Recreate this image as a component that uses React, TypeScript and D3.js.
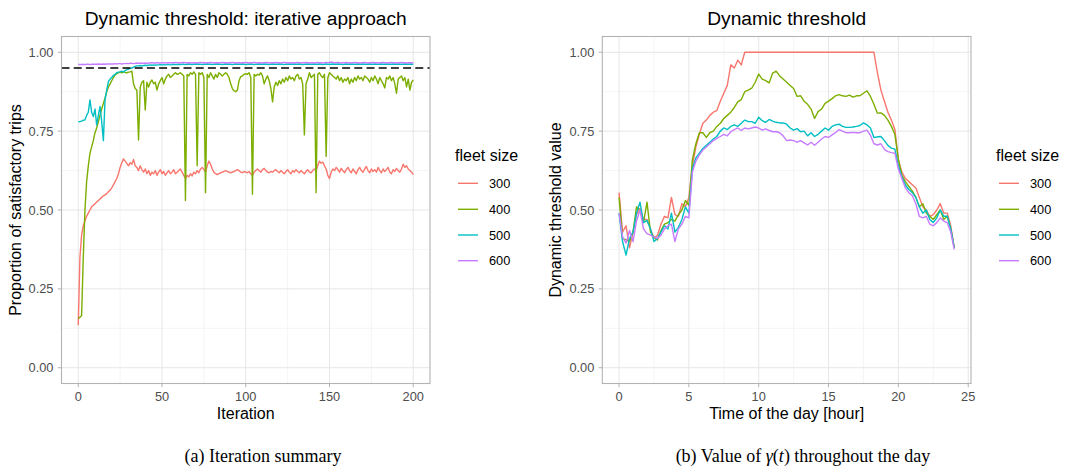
import React from 'react';
import * as d3 from 'd3';

// ---------------- DATA ----------------
const fleetSizes = ['300', '400', '500', '600'];
const fleetColors = ['#F8766D', '#7CAE00', '#00BFC4', '#C77CFF'];

const iterations = d3.range(0, 201);

const iterSat300 = [
  0.135, 0.35, 0.42, 0.45, 0.465, 0.48, 0.49, 0.5, 0.51, 0.515,
  0.52, 0.525, 0.53, 0.535, 0.54, 0.545, 0.548, 0.552, 0.558, 0.563,
  0.57, 0.58, 0.59, 0.6, 0.615, 0.635, 0.65, 0.662, 0.655, 0.648,
  0.64, 0.65, 0.645, 0.66, 0.64, 0.635, 0.625, 0.64, 0.628, 0.62,
  0.63, 0.615, 0.625, 0.61, 0.62, 0.615, 0.625, 0.61, 0.62, 0.628,
  0.615, 0.622, 0.61, 0.618, 0.625, 0.615, 0.62, 0.628, 0.615, 0.62,
  0.625, 0.63, 0.62, 0.61, 0.6, 0.61, 0.605, 0.615, 0.608, 0.62,
  0.615, 0.625, 0.618, 0.63, 0.635, 0.628, 0.62, 0.64, 0.655, 0.645,
  0.63, 0.62, 0.615, 0.612, 0.615, 0.618, 0.62, 0.622, 0.625, 0.622,
  0.62, 0.618, 0.62, 0.622, 0.625, 0.628, 0.625, 0.62, 0.618, 0.622,
  0.62, 0.618, 0.622, 0.615, 0.61, 0.62, 0.625, 0.63, 0.625, 0.62,
  0.628, 0.632, 0.625, 0.62, 0.618, 0.622, 0.62, 0.625, 0.628, 0.622,
  0.618, 0.625, 0.62, 0.615, 0.622, 0.628, 0.62, 0.615, 0.625, 0.62,
  0.628, 0.622, 0.618, 0.625, 0.62, 0.615, 0.622, 0.628, 0.62, 0.618,
  0.625, 0.63, 0.625, 0.64, 0.655, 0.648, 0.652, 0.64, 0.63, 0.61,
  0.6, 0.62, 0.63, 0.625, 0.635, 0.628, 0.62, 0.632, 0.625, 0.618,
  0.628, 0.635, 0.625, 0.618, 0.63, 0.622, 0.615, 0.628, 0.635, 0.625,
  0.62, 0.63, 0.638, 0.625, 0.618, 0.63, 0.622, 0.628, 0.62, 0.635,
  0.625, 0.618, 0.63, 0.622, 0.628, 0.635, 0.62, 0.615, 0.628, 0.622,
  0.632, 0.625, 0.62, 0.63, 0.645, 0.635, 0.64, 0.63, 0.625, 0.62,
  0.612,
];

const iterSat400 = [
  0.155, 0.16, 0.165, 0.35, 0.5, 0.59, 0.64, 0.68, 0.7, 0.72,
  0.745, 0.76, 0.78, 0.8, 0.82, 0.838, 0.855, 0.875, 0.89, 0.9,
  0.91, 0.92, 0.928, 0.932, 0.935, 0.937, 0.935, 0.938, 0.936, 0.935,
  0.937, 0.938, 0.94, 0.9, 0.885, 0.88, 0.722, 0.89, 0.905, 0.91,
  0.817, 0.905, 0.89, 0.905, 0.912, 0.9, 0.905, 0.88, 0.9, 0.91,
  0.92, 0.9, 0.915, 0.925, 0.93, 0.92, 0.925, 0.93, 0.935, 0.93,
  0.932, 0.935, 0.93, 0.925, 0.53, 0.93, 0.925, 0.935, 0.93, 0.938,
  0.93, 0.64, 0.935, 0.93, 0.935, 0.92, 0.555, 0.93, 0.92, 0.935,
  0.925, 0.915, 0.93, 0.92, 0.935, 0.93, 0.925, 0.93, 0.935, 0.93,
  0.92, 0.9, 0.885, 0.878, 0.875, 0.88, 0.91, 0.923, 0.925, 0.93,
  0.932, 0.93, 0.935, 0.92, 0.55, 0.93, 0.925, 0.93, 0.928, 0.935,
  0.925, 0.9, 0.915, 0.925, 0.91, 0.885, 0.843, 0.89, 0.905, 0.895,
  0.91, 0.9, 0.915, 0.905, 0.92, 0.91, 0.925, 0.915, 0.92, 0.91,
  0.925, 0.93, 0.915, 0.92, 0.9, 0.738, 0.9, 0.915, 0.935, 0.92,
  0.925, 0.93, 0.555, 0.93, 0.935, 0.925, 0.92, 0.93, 0.67, 0.92,
  0.935, 0.93, 0.925, 0.92, 0.915, 0.925, 0.91, 0.92, 0.905, 0.915,
  0.91, 0.92, 0.9, 0.915, 0.905, 0.92, 0.91, 0.925, 0.915, 0.92,
  0.91, 0.925, 0.92, 0.915, 0.905, 0.92, 0.91, 0.925, 0.915, 0.9,
  0.92, 0.91, 0.9, 0.887, 0.92, 0.915, 0.925, 0.91, 0.92, 0.9,
  0.87, 0.915, 0.92, 0.925, 0.91, 0.92, 0.89, 0.915, 0.88, 0.905,
  0.912,
];

const iterSat500 = [
  0.78, 0.78, 0.782, 0.785, 0.785, 0.8, 0.81, 0.849, 0.81, 0.796,
  0.82, 0.77, 0.8, 0.828, 0.78, 0.72, 0.85, 0.88, 0.907, 0.915,
  0.92, 0.927, 0.93, 0.935, 0.937, 0.938, 0.94, 0.937, 0.942, 0.945,
  0.947, 0.949, 0.95, 0.953, 0.955, 0.957, 0.957, 0.958, 0.957, 0.958,
  0.959, 0.958, 0.959, 0.96, 0.959, 0.96, 0.959, 0.96, 0.96, 0.961,
  0.96, 0.961, 0.96, 0.961, 0.961, 0.96, 0.961, 0.962, 0.961, 0.961,
  0.962, 0.961, 0.962, 0.962, 0.961, 0.962, 0.963, 0.962, 0.961, 0.962,
  0.962, 0.963, 0.962, 0.962, 0.961, 0.962, 0.962, 0.963, 0.962, 0.962,
  0.961, 0.962, 0.962, 0.963, 0.962, 0.962, 0.961, 0.962, 0.963, 0.962,
  0.962, 0.962, 0.961, 0.962, 0.963, 0.962, 0.962, 0.962, 0.963, 0.962,
  0.961, 0.962, 0.962, 0.963, 0.962, 0.961, 0.962, 0.962, 0.963, 0.962,
  0.962, 0.963, 0.962, 0.962, 0.961, 0.962, 0.963, 0.962, 0.962, 0.962,
  0.963, 0.962, 0.962, 0.961, 0.962, 0.962, 0.963, 0.962, 0.962, 0.963,
  0.962, 0.962, 0.963, 0.962, 0.961, 0.962, 0.962, 0.963, 0.962, 0.962,
  0.962, 0.963, 0.962, 0.962, 0.963, 0.962, 0.961, 0.962, 0.963, 0.962,
  0.962, 0.962, 0.963, 0.962, 0.962, 0.963, 0.962, 0.962, 0.961, 0.962,
  0.963, 0.962, 0.962, 0.963, 0.962, 0.962, 0.962, 0.963, 0.962, 0.962,
  0.963, 0.962, 0.962, 0.962, 0.963, 0.962, 0.962, 0.963, 0.962, 0.962,
  0.962, 0.963, 0.962, 0.962, 0.963, 0.962, 0.962, 0.962, 0.963, 0.962,
  0.962, 0.963, 0.962, 0.962, 0.962, 0.963, 0.962, 0.962, 0.963, 0.962,
  0.962,
];

const iterSat600 = [
  0.961, 0.961, 0.961, 0.962, 0.961, 0.962, 0.962, 0.961, 0.962, 0.962,
  0.962, 0.962, 0.963, 0.962, 0.962, 0.963, 0.962, 0.963, 0.963, 0.963,
  0.963, 0.963, 0.964, 0.963, 0.964, 0.964, 0.963, 0.964, 0.964, 0.965,
  0.964, 0.965, 0.965, 0.964, 0.965, 0.966, 0.965, 0.965, 0.966, 0.965,
  0.966, 0.965, 0.966, 0.966, 0.967, 0.966, 0.966, 0.967, 0.966, 0.966,
  0.967, 0.966, 0.967, 0.966, 0.967, 0.967, 0.966, 0.967, 0.968, 0.967,
  0.966, 0.967, 0.967, 0.968, 0.967, 0.966, 0.967, 0.967, 0.966, 0.967,
  0.967, 0.966, 0.967, 0.968, 0.967, 0.967, 0.966, 0.967, 0.967, 0.968,
  0.967, 0.966, 0.967, 0.967, 0.966, 0.967, 0.968, 0.967, 0.967, 0.966,
  0.967, 0.967, 0.968, 0.967, 0.966, 0.967, 0.967, 0.966, 0.967, 0.967,
  0.968, 0.967, 0.966, 0.967, 0.967, 0.968, 0.967, 0.966, 0.967, 0.967,
  0.966, 0.967, 0.968, 0.967, 0.967, 0.966, 0.967, 0.967, 0.968, 0.967,
  0.967, 0.966, 0.967, 0.968, 0.967, 0.967, 0.966, 0.967, 0.967, 0.966,
  0.967, 0.968, 0.967, 0.966, 0.967, 0.967, 0.968, 0.967, 0.966, 0.967,
  0.967, 0.966, 0.967, 0.968, 0.967, 0.967, 0.966, 0.967, 0.968, 0.967,
  0.968, 0.969, 0.968, 0.967, 0.967, 0.968, 0.967, 0.966, 0.967, 0.967,
  0.968, 0.967, 0.967, 0.966, 0.967, 0.968, 0.967, 0.967, 0.966, 0.967,
  0.967, 0.968, 0.967, 0.966, 0.967, 0.967, 0.968, 0.967, 0.967, 0.966,
  0.967, 0.967, 0.968, 0.967, 0.966, 0.967, 0.967, 0.968, 0.967, 0.967,
  0.966, 0.967, 0.967, 0.968, 0.967, 0.967, 0.966, 0.967, 0.967, 0.967,
  0.967,
];

const satisfactionTarget = 0.95;

// time of the day, every 15 minutes
const hours = d3.range(0, 24.001, 0.25);

const threshold300 = [
  0.555, 0.43, 0.45, 0.38,
  0.43, 0.485, 0.505, 0.47,
  0.47, 0.44, 0.41, 0.42,
  0.455, 0.48, 0.475, 0.54,
  0.485, 0.48, 0.52, 0.51,
  0.54, 0.64, 0.70, 0.74,
  0.775, 0.785, 0.80, 0.81,
  0.815, 0.845, 0.87, 0.895,
  0.96, 0.95, 0.975, 0.96,
  1, 1, 1, 1,
  1, 1, 1, 1,
  1, 1, 1, 1,
  1, 1, 1, 1,
  1, 1, 1, 1,
  1, 1, 1, 1,
  1, 1, 1, 1,
  1, 1, 1, 1,
  1, 1, 1, 1,
  1, 1, 0.935, 0.88,
  0.845, 0.81, 0.785, 0.755,
  0.66, 0.62, 0.60, 0.59,
  0.58, 0.57, 0.54, 0.51,
  0.50, 0.48, 0.485, 0.50,
  0.52, 0.49, 0.49, 0.45,
  0.38,
];

const threshold400 = [
  0.54, 0.41, 0.405, 0.40,
  0.43, 0.51, 0.50, 0.46,
  0.525, 0.43, 0.415, 0.405,
  0.435, 0.455, 0.46, 0.47,
  0.465, 0.485, 0.50, 0.53,
  0.515, 0.66, 0.71, 0.745,
  0.745, 0.73, 0.745, 0.75,
  0.765, 0.775, 0.79, 0.80,
  0.81, 0.825, 0.843, 0.85,
  0.875, 0.88, 0.886, 0.905,
  0.931, 0.915, 0.91, 0.903,
  0.934, 0.94, 0.925, 0.915,
  0.905, 0.895, 0.885, 0.86,
  0.862, 0.845, 0.835, 0.82,
  0.79, 0.812, 0.82, 0.838,
  0.845, 0.853, 0.862, 0.866,
  0.862, 0.86, 0.864, 0.858,
  0.862, 0.862, 0.87, 0.878,
  0.86, 0.835, 0.807, 0.808,
  0.80, 0.785, 0.765, 0.74,
  0.66, 0.61, 0.59, 0.575,
  0.56, 0.54, 0.51, 0.52,
  0.49, 0.48, 0.47, 0.485,
  0.50, 0.47, 0.48, 0.44,
  0.38,
];

const threshold500 = [
  0.49, 0.40, 0.357, 0.41,
  0.43, 0.49, 0.525, 0.46,
  0.467, 0.44, 0.40, 0.41,
  0.43, 0.45, 0.44, 0.49,
  0.43, 0.445, 0.47, 0.51,
  0.49, 0.63, 0.665, 0.68,
  0.695, 0.705, 0.715, 0.725,
  0.733, 0.75, 0.76, 0.755,
  0.765, 0.77, 0.765, 0.775,
  0.785, 0.78, 0.78, 0.775,
  0.794, 0.783, 0.778, 0.787,
  0.782, 0.778, 0.776, 0.776,
  0.772, 0.76, 0.753, 0.758,
  0.748, 0.75, 0.735, 0.745,
  0.733, 0.74, 0.75, 0.76,
  0.753, 0.765, 0.77, 0.772,
  0.765, 0.762, 0.762, 0.763,
  0.765, 0.768, 0.776, 0.77,
  0.76, 0.73, 0.732, 0.733,
  0.72, 0.705, 0.696, 0.693,
  0.64, 0.605, 0.58, 0.565,
  0.555, 0.54, 0.51, 0.49,
  0.50, 0.47, 0.46, 0.475,
  0.50, 0.48, 0.48, 0.44,
  0.38,
];

const threshold600 = [
  0.49, 0.415, 0.395, 0.435,
  0.40, 0.465, 0.50, 0.44,
  0.425, 0.42, 0.415, 0.41,
  0.42, 0.44, 0.45, 0.455,
  0.40, 0.44, 0.455, 0.48,
  0.475, 0.62, 0.655, 0.675,
  0.69, 0.70, 0.71, 0.72,
  0.727, 0.733, 0.74, 0.735,
  0.748, 0.755, 0.76, 0.752,
  0.76, 0.757, 0.76, 0.763,
  0.76, 0.753, 0.757, 0.752,
  0.748, 0.748, 0.745, 0.735,
  0.72, 0.722, 0.72, 0.715,
  0.72, 0.713, 0.706, 0.715,
  0.705, 0.715, 0.725, 0.733,
  0.73, 0.738, 0.745, 0.755,
  0.75, 0.745, 0.745, 0.746,
  0.745, 0.745, 0.75, 0.753,
  0.737, 0.71, 0.706, 0.71,
  0.692, 0.685, 0.682, 0.68,
  0.63, 0.60, 0.57, 0.555,
  0.545, 0.52, 0.48, 0.475,
  0.48, 0.455, 0.45, 0.46,
  0.475, 0.465, 0.46, 0.43,
  0.375,
];

const yTicks = [0, 0.25, 0.5, 0.75, 1];
const yMinor = [0.125, 0.375, 0.625, 0.875];
const iterTicks = [0, 50, 100, 150, 200];
const iterMinor = [25, 75, 125, 175];
const hourTicks = [0, 5, 10, 15, 20, 25];
const hourMinor = [2.5, 7.5, 12.5, 17.5, 22.5];

// ---------------- DRAWING ----------------
const SANS = '"Liberation Sans", Arial, Helvetica, sans-serif';
const SERIF = '"Liberation Serif", "Times New Roman", serif';
const TOP = 36.5;
const BOTTOM = 383.5;

type PanelProps = {
  x0: number;
  x1: number;
  xDomain: [number, number];
  xTicks: number[];
  xMinor: number[];
  xs: number[];
  series: number[][];
  title: string;
  xLabel: string;
  yLabel: string;
  yLabelX: number;
  hline?: number;
};

function Panel(p: PanelProps) {
  const x = d3.scaleLinear().domain(p.xDomain).range([p.x0, p.x1]);
  const y = d3.scaleLinear().domain([-0.05, 1.05]).range([BOTTOM, TOP]);
  const fmt = d3.format('.2f');
  const line = d3
    .line<number>()
    .x((_, i) => x(p.xs[i]))
    .y((d) => y(d));
  const cx = (p.x0 + p.x1) / 2;
  const legX = p.x1 + 25;
  const keyY = [183.3, 209.3, 235, 260.7];
  return (
    <g>
      {/* grid */}
      {yMinor.map((v) => (
        <line key={'ym' + v} x1={p.x0} x2={p.x1} y1={y(v)} y2={y(v)} stroke="#EFEFEF" strokeWidth={0.6} />
      ))}
      {p.xMinor.map((v) => (
        <line key={'xm' + v} x1={x(v)} x2={x(v)} y1={TOP} y2={BOTTOM} stroke="#EFEFEF" strokeWidth={0.6} />
      ))}
      {yTicks.map((v) => (
        <line key={'yg' + v} x1={p.x0} x2={p.x1} y1={y(v)} y2={y(v)} stroke="#E6E6E6" strokeWidth={1} />
      ))}
      {p.xTicks.map((v) => (
        <line key={'xg' + v} x1={x(v)} x2={x(v)} y1={TOP} y2={BOTTOM} stroke="#E6E6E6" strokeWidth={1} />
      ))}
      {/* series */}
      <g clipPath={undefined}>
        {p.series.map((s, i) => (
          <path key={'s' + i} d={line(s) || ''} fill="none" stroke={fleetColors[i]} strokeWidth={1.4} strokeLinejoin="round" />
        ))}
      </g>
      {p.hline !== undefined && (
        <line x1={p.x0} x2={p.x1} y1={y(p.hline)} y2={y(p.hline)} stroke="#000" strokeWidth={1.4} strokeDasharray="8,4.2" />
      )}
      {/* border */}
      <rect x={p.x0} y={TOP} width={p.x1 - p.x0} height={BOTTOM - TOP} fill="none" stroke="#B3B3B3" strokeWidth={1.1} />
      {/* y axis */}
      {yTicks.map((v) => (
        <g key={'yt' + v}>
          <line x1={p.x0 - 3.7} x2={p.x0} y1={y(v)} y2={y(v)} stroke="#B3B3B3" strokeWidth={1} />
          <text x={p.x0 - 8} y={y(v) + 4.5} textAnchor="end" fontSize={12.8} fill="#4D4D4D" fontFamily={SANS}>
            {fmt(v)}
          </text>
        </g>
      ))}
      {/* x axis */}
      {p.xTicks.map((v) => (
        <g key={'xt' + v}>
          <line x1={x(v)} x2={x(v)} y1={BOTTOM} y2={BOTTOM + 3.7} stroke="#B3B3B3" strokeWidth={1} />
          <text x={x(v)} y={401.3} textAnchor="middle" fontSize={12.8} fill="#4D4D4D" fontFamily={SANS}>
            {v}
          </text>
        </g>
      ))}
      <text x={cx} y={419} textAnchor="middle" fontSize={16} fill="#000" fontFamily={SANS}>
        {p.xLabel}
      </text>
      <text
        transform={`translate(${p.yLabelX},${(TOP + BOTTOM) / 2}) rotate(-90)`}
        textAnchor="middle"
        fontSize={16}
        fill="#000"
        fontFamily={SANS}
      >
        {p.yLabel}
      </text>
      <text x={cx} y={24.5} textAnchor="middle" fontSize={19.2} fill="#000" fontFamily={SANS}>
        {p.title}
      </text>
      {/* legend */}
      <text x={legX} y={160.5} fontSize={16} fill="#000" fontFamily={SANS}>
        fleet size
      </text>
      {fleetSizes.map((f, i) => (
        <g key={'lg' + f}>
          <line x1={legX + 3} x2={legX + 23} y1={keyY[i]} y2={keyY[i]} stroke={fleetColors[i]} strokeWidth={1.4} />
          <text x={legX + 34} y={keyY[i] + 4.6} fontSize={12.8} fill="#000" fontFamily={SANS}>
            {f}
          </text>
        </g>
      ))}
    </g>
  );
}

export default function App() {
  return (
    <svg
      width={1068}
      height={466}
      viewBox="0 0 1068 466"
      style={{ position: 'absolute', left: 0, top: 0, background: '#fff' }}
    >
      <rect x={0} y={0} width={1068} height={466} fill="#fff" />
      <Panel
        x0={61.5}
        x1={430}
        xDomain={[-10, 210]}
        xTicks={iterTicks}
        xMinor={iterMinor}
        xs={iterations}
        series={[iterSat300, iterSat400, iterSat500, iterSat600]}
        title="Dynamic threshold: iterative approach"
        xLabel="Iteration"
        yLabel="Proportion of satisfactory trips"
        yLabelX={21}
        hline={satisfactionTarget}
      />
      <Panel
        x0={602.3}
        x1={971}
        xDomain={[-1.2, 25.2]}
        xTicks={hourTicks}
        xMinor={hourMinor}
        xs={hours}
        series={[threshold300, threshold400, threshold500, threshold600]}
        title="Dynamic threshold"
        xLabel="Time of the day [hour]"
        yLabel="Dynamic threshold value"
        yLabelX={561}
      />
      <text x={263} y={462} textAnchor="middle" fontSize={18} fill="#000" fontFamily={SERIF}>
        (a) Iteration summary
      </text>
      <text x={803} y={462} textAnchor="middle" fontSize={18} fill="#000" fontFamily={SERIF}>
        (b) Value of <tspan fontStyle="italic">γ</tspan>(<tspan fontStyle="italic">t</tspan>) throughout the day
      </text>
    </svg>
  );
}
